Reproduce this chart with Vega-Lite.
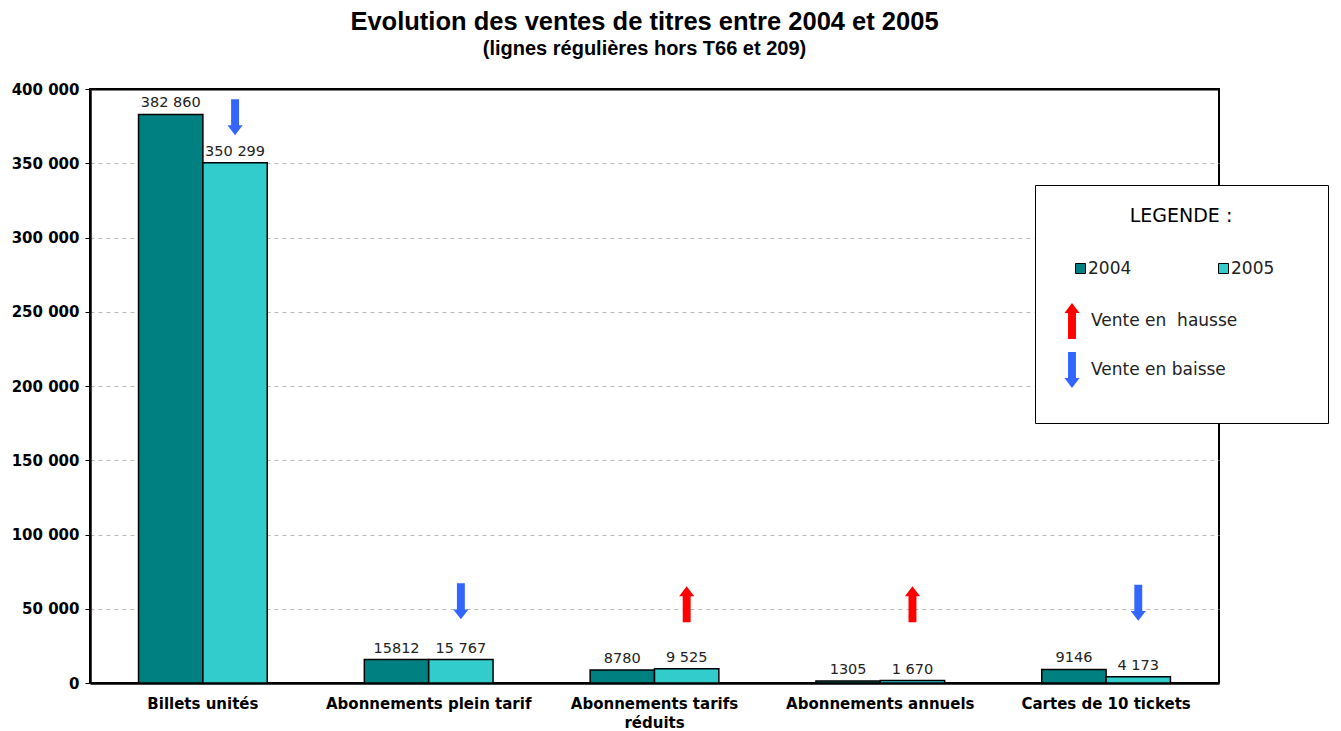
{
  "$schema": "https://vega.github.io/schema/vega-lite/v6.json",
  "width": 1129,
  "height": 594,
  "autosize": {"type": "none"},
  "padding": {"left": 90, "top": 89, "right": 122, "bottom": 48},
  "background": "white",
  "title": {
    "text": "Evolution des ventes de titres entre 2004 et 2005",
    "subtitle": "(lignes régulières hors T66 et 209)",
    "anchor": "middle",
    "frame": "group",
    "dx": -10,
    "font": "Liberation Sans",
    "fontSize": 25.5,
    "fontWeight": "bold",
    "color": "black",
    "subtitleFont": "Liberation Sans",
    "subtitleFontSize": 20,
    "subtitleFontWeight": "bold",
    "subtitleColor": "black",
    "subtitlePadding": 4,
    "offset": 23
  },
  "datasets": {
    "ventes": [
      {"categorie": "Billets unités", "annee": "2004", "valeur": 382860, "etiquette": "382 860"},
      {"categorie": "Billets unités", "annee": "2005", "valeur": 350299, "etiquette": "350 299"},
      {"categorie": "Abonnements plein tarif", "annee": "2004", "valeur": 15812, "etiquette": "15812"},
      {"categorie": "Abonnements plein tarif", "annee": "2005", "valeur": 15767, "etiquette": "15 767"},
      {"categorie": "Abonnements tarifs réduits", "annee": "2004", "valeur": 8780, "etiquette": "8780"},
      {"categorie": "Abonnements tarifs réduits", "annee": "2005", "valeur": 9525, "etiquette": "9 525"},
      {"categorie": "Abonnements annuels", "annee": "2004", "valeur": 1305, "etiquette": "1305"},
      {"categorie": "Abonnements annuels", "annee": "2005", "valeur": 1670, "etiquette": "1 670"},
      {"categorie": "Cartes de 10 tickets", "annee": "2004", "valeur": 9146, "etiquette": "9146"},
      {"categorie": "Cartes de 10 tickets", "annee": "2005", "valeur": 4173, "etiquette": "4 173"}
    ],
    "fleches": [
      {"categorie": "Billets unités", "annee": "2005", "sens": "Vente en baisse", "niveau": 381000},
      {"categorie": "Abonnements plein tarif", "annee": "2005", "sens": "Vente en baisse", "niveau": 55000},
      {"categorie": "Abonnements tarifs réduits", "annee": "2005", "sens": "Vente en\u00a0 hausse", "niveau": 53000},
      {"categorie": "Abonnements annuels", "annee": "2005", "sens": "Vente en\u00a0 hausse", "niveau": 53000},
      {"categorie": "Cartes de 10 tickets", "annee": "2005", "sens": "Vente en baisse", "niveau": 54000}
    ]
  },
  "encoding": {
    "x": {
      "field": "categorie",
      "type": "nominal",
      "scale": {
        "domain": ["Billets unités", "Abonnements plein tarif", "Abonnements tarifs réduits", "Abonnements annuels", "Cartes de 10 tickets"],
        "paddingInner": 0.43,
        "paddingOuter": 0.215
      },
      "axis": {
        "title": null,
        "labelAngle": 0,
        "ticks": false,
        "grid": false,
        "labelFont": "DejaVu Sans",
        "labelFontWeight": "bold",
        "labelFontSize": 15,
        "labelColor": "black",
        "labelPadding": 13,
        "labelLimit": 400,
        "labelOverlap": false,
        "labelLineHeight": 19,
        "labelExpr": "datum.value == 'Abonnements tarifs réduits' ? ['Abonnements tarifs', 'réduits'] : datum.value",
        "domainColor": "black",
        "domainWidth": 2.5
      }
    },
    "xOffset": {
      "field": "annee",
      "type": "nominal",
      "scale": {"domain": ["2004", "2005"], "paddingInner": 0, "paddingOuter": 0}
    }
  },
  "layer": [
    {
      "data": {"name": "ventes"},
      "mark": {"type": "bar", "stroke": "black", "strokeWidth": 1.5},
      "encoding": {
        "y": {
          "field": "valeur",
          "type": "quantitative",
          "scale": {"domain": [0, 400000], "nice": false},
          "axis": {
            "title": null,
            "values": [0, 50000, 100000, 150000, 200000, 250000, 300000, 350000, 400000],
            "format": ",d",
            "labelFont": "DejaVu Sans",
            "labelFontWeight": "bold",
            "labelFontSize": 15,
            "labelColor": "black",
            "tickSize": 5,
            "tickColor": "black",
            "labelPadding": 6,
            "domainColor": "black",
            "domainWidth": 2.5,
            "grid": true,
            "gridColor": {"condition": {"test": "datum.value >= 400000", "value": "black"}, "value": "#bbbbbb"},
            "gridDash": {"condition": {"test": "datum.value >= 400000", "value": []}, "value": [4, 4]},
            "gridWidth": {"condition": {"test": "datum.value >= 400000", "value": 2}, "value": 1}
          }
        },
        "color": {
          "field": "annee",
          "type": "nominal",
          "scale": {
            "domain": ["2004", "2005", "b1", "b2"],
            "range": ["#008080", "#33CCCC", "transparent", "transparent"]
          },
          "legend": {
            "orient": "none",
            "legendX": 945,
            "legendY": 96,
            "title": "LEGENDE :",
            "titleFont": "DejaVu Sans",
            "titleFontSize": 19,
            "titleFontWeight": "normal",
            "titleColor": "black",
            "titleAnchor": "middle",
            "titlePadding": 34,
            "direction": "horizontal",
            "columns": 2,
            "gridAlign": "none",
            "columnPadding": 68,
            "rowPadding": 106,
            "padding": 22,
            "strokeColor": "black",
            "fillColor": "white",
            "symbolType": "square",
            "symbolSize": 100,
            "symbolOffset": 15,
            "labelOffset": -1,
            "labelFont": "DejaVu Sans",
            "labelFontSize": 17,
            "labelColor": "#222222",
            "labelExpr": "datum.value == 'b2' ? '\u2800\u2800\u2800\u2800\u2800\u2800' : (datum.value == 'b1' ? '' : datum.label)",
            "symbolStrokeWidth": 1,
            "symbolStrokeColor": {"expr": "datum.value == '2004' || datum.value == '2005' ? 'black' : 'transparent'"}
          }
        }
      }
    },
    {
      "data": {"name": "ventes"},
      "mark": {"type": "text", "font": "DejaVu Sans", "fontSize": 14.5, "color": "#222222", "baseline": "alphabetic", "dy": -7},
      "encoding": {
        "y": {"field": "valeur", "type": "quantitative"},
        "text": {"field": "etiquette", "type": "nominal"}
      }
    },
    {
      "data": {"name": "fleches"},
      "mark": {"type": "point", "filled": true, "size": 1296, "strokeWidth": 0, "opacity": 1},
      "encoding": {
        "y": {"field": "niveau", "type": "quantitative"},
        "shape": {
          "field": "sens",
          "type": "nominal",
          "scale": {
            "domain": ["Vente en\u00a0 hausse", "Vente en baisse"],
            "range": [
              "M0,-1L0.42,-0.45L0.22,-0.45L0.22,1L-0.22,1L-0.22,-0.45L-0.42,-0.45Z",
              "M0,1L0.42,0.45L0.22,0.45L0.22,-1L-0.22,-1L-0.22,0.45L-0.42,0.45Z"
            ]
          },
          "legend": {
            "orient": "none",
            "legendX": 964,
            "legendY": 214,
            "title": null,
            "direction": "vertical",
            "rowPadding": 13,
            "symbolSize": 1296,
            "symbolStrokeWidth": 0,
            "labelFont": "DejaVu Sans",
            "labelFontSize": 17,
            "labelOffset": 1,
            "labelColor": "#222222",
            "padding": 0
          }
        },
        "fill": {
          "field": "sens",
          "type": "nominal",
          "scale": {
            "domain": ["Vente en\u00a0 hausse", "Vente en baisse"],
            "range": ["#FF0000", "#3366FF"]
          },
          "legend": {
            "orient": "none",
            "legendX": 964,
            "legendY": 214,
            "title": null,
            "direction": "vertical",
            "rowPadding": 13,
            "symbolSize": 1296,
            "symbolStrokeWidth": 0,
            "labelFont": "DejaVu Sans",
            "labelFontSize": 17,
            "labelOffset": 1,
            "labelColor": "#222222",
            "padding": 0
          }
        }
      }
    }
  ],
  "config": {
    "font": "DejaVu Sans",
    "view": {"stroke": "black", "strokeWidth": 2},
    "locale": {
      "number": {"decimal": ",", "thousands": " ", "grouping": [3], "currency": ["", " €"]}
    }
  }
}
